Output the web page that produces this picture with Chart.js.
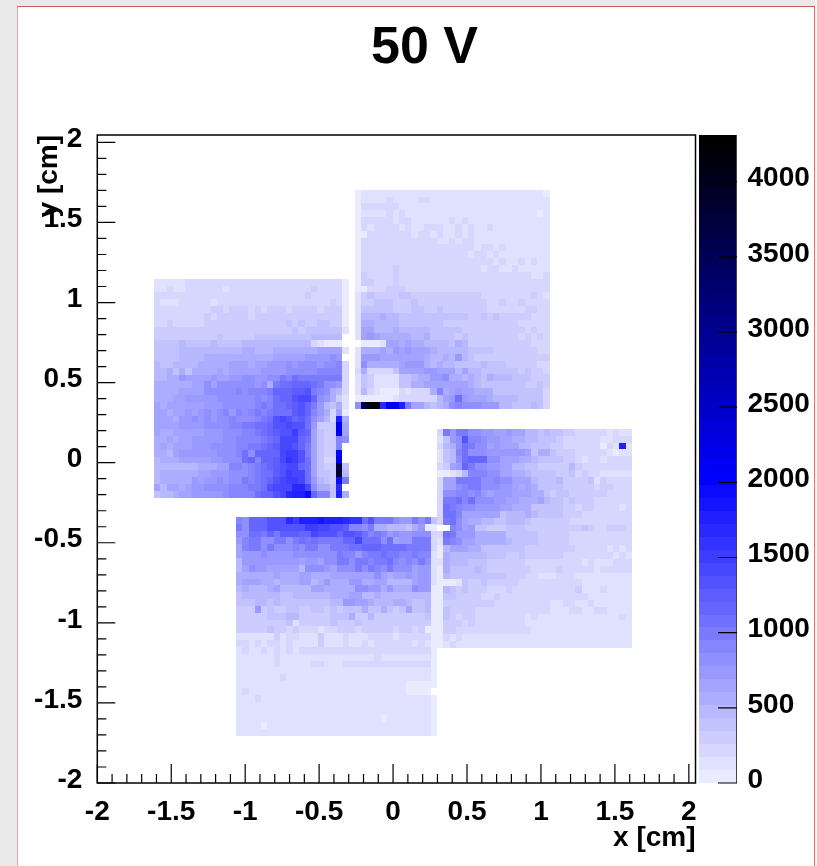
<!DOCTYPE html>
<html>
<head>
<meta charset="utf-8">
<script src="https://cdn.jsdelivr.net/npm/chart.js@4"></script>
<style>
  html, body { margin: 0; height: 100%; background: #e9e9e9; overflow: hidden; }
  #sheet { position: absolute; left: 17px; top: 6px; width: 796px; height: 870px; background: #fff;
           border-left: 1px solid #e3a9a9; border-top: 1px solid #cf5a5a; border-right: 1px solid #f66; }
  #rightEdge { position: absolute; left: 815px; top: 0; width: 2px; height: 866px; background: #f4f4f4; }
  canvas { position: absolute; left: 0; top: 0; }
</style>
</head>
<body>
<div id="sheet"></div>
<div id="rightEdge"></div>
<canvas id="map" width="817" height="866"></canvas>
<script>
var xTicks = [-2, -1.5, -1, -0.5, 0, 0.5, 1, 1.5, 2];
var yTicks = [-2, -1.5, -1, -0.5, 0, 0.5, 1, 1.5, 2];
var zTicks = [0, 500, 1000, 1500, 2000, 2500, 3000, 3500, 4000];

// lower left detector, rows run from the top down
var padA = [
[170,170,170,170,170, 230,190,190,190,190, 190,190,230,200,200, 200,200,200,200,200, 200,200,190,200,200, 200,200,200,250,200, 50],
[170,170,230,170,170, 200,230,200,200,200, 200,170,230,240,210, 210,210,210,210,210, 220,240,240,240,240, 260,230,230,240,230, 50],
[180,180,230,200,200, 210,200,230,230,200, 210,210,210,210,210, 210,210,210,210,220, 230,230,250,230,260, 240,240,240,240,240, 50],
[220,170,170,170,210, 210,210,250,210,170, 210,210,210,210,210, 210,210,210,220,230, 240,250,240,240,240, 240,230,230,270,240, 50],
[230,230,230,230,250, 240,240,240,240,290, 290,240,300,270,290, 250,270,240,270,300, 290,250,280,260,260, 260,250,270,270,310, 50],
[220,220,220,220,220, 240,240,240,270,240, 290,310,290,300,290, 180,290,270,270,270, 300,300,320,310,290, 320,300,320,320,340, 60],
[240,220,260,220,220, 220,250,250,270,270, 290,270,300,320,270, 280,300,300,280,300, 330,350,300,370,320, 320,360,360,340,310, 60],
[340,280,280,280,280, 280,300,300,340,310, 340,310,310,300,300, 300,340,310,340,340, 320,340,360,340,380, 420,420,400,400,400, 100],
[340,300,300,300,300, 300,300,340,340,340, 370,340,340,340,340, 340,370,370,370,370, 360,380,400,400,420, 480,480,480,480,480, 0],
[360,360,360,420,470, 420,420,380,420,460, 420,420,420,420,440, 440,450,450,450,450, 450,450,470,500,500, 180,130,30,30,30, 0],
[420,420,420,420,450, 450,470,450,480,500, 480,480,490,500,530, 520,500,500,510,540, 540,540,560,560,600, 600,620,620,640,640, 100],
[420,380,380,420,450, 450,450,500,550,520, 520,540,560,560,580, 580,560,560,600,620, 620,640,680,640,700, 700,700,760,800,760, 0],
[500,420,420,450,450, 480,500,550,550,560, 590,600,620,620,620, 560,620,660,700,700, 740,800,700,780,800, 800,760,800,860,900, 200],
[480,480,520,400,550, 420,600,560,600,600, 620,600,680,640,680, 640,640,760,760,760, 700,800,800,860,860, 800,900,880,900,900, 220],
[480,480,520,560,700, 620,680,620,680,760, 620,680,740,720,800, 860,720,720,860,860, 960,900,1060,1000,960, 980,1020,1020,1020,1020, 240],
[600,520,560,560,600, 600,640,640,800,660, 780,780,800,800,780, 800,720,800,540,1000, 1100,1080,1200,1180,1200, 1100,1000,860,780,700, 240],
[560,520,560,600,640, 640,640,640,820,800, 860,860,860,940,840, 900,880,900,1000,1150, 1150,1150,1260,1280,1320, 1000,940,800,600,500, 240],
[600,600,560,640,640, 720,720,720,720,740, 800,820,820,800,800, 860,900,860,900,1120, 1200,1200,1300,1400,1400, 1180,780,700,600,300, 150],
[620,560,640,660,660, 660,680,680,700,760, 760,820,780,800,860, 800,900,1000,900,1100, 1100,1150,1250,1300,1200, 1000,700,500,350,600, 90],
[640,620,600,640,680, 700,650,700,800,700, 800,880,760,880,820, 900,980,900,1000,1080, 1080,1100,1250,1300,1150, 900,700,550,200,650, 80],
[640,620,640,600,700, 760,820,760,800,700, 800,860,900,860,800, 860,940,1000,1080,1300, 1400,1300,1200,1250,1100, 800,650,500,250,1800, 600],
[640,640,640,640,700, 700,760,700,780,860, 800,800,880,940,980, 1020,1100,1100,1200,1350, 1350,1400,1300,1300,1100, 700,320,300,280,2100, 660],
[680,560,560,660,660, 660,680,680,700,700, 760,840,820,780,900, 940,950,1040,1160,1280, 1340,1360,1550,1250,1150, 650,350,300,270,2100, 620],
[520,560,620,560,620, 620,720,720,720,760, 760,800,860,880,880, 920,920,1000,1100,1160, 1380,1380,1450,1200,1050, 650,380,280,300,900, 850],
[580,620,520,620,620, 640,750,760,760,780, 800,800,800,900,900, 1000,1020,1100,1200,1260, 1400,1400,1350,1150,1000, 620,350,280,280,900, 0],
[560,600,500,640,700, 700,720,720,700,760, 860,860,860,940,1060, 800,1200,1200,1200,1200, 1380,1500,1480,1300,1000, 650,380,280,260,2100, 0],
[450,560,560,600,620, 620,620,640,640,700, 720,800,800,800,1050, 1150,900,1150,1200,1280, 1450,1600,1500,1300,1050, 680,400,250,250,2100, 0],
[500,500,500,500,500, 500,500,520,560,600, 650,650,900,900,860, 940,1000,1120,1200,1280, 1350,1400,1400,1200,1100, 680,430,300,300,3700, 350],
[480,520,520,600,600, 600,600,620,650,700, 700,760,780,820,850, 900,1000,1050,1100,1240, 1350,1480,1380,1400,1100, 650,380,370,300,3800, 480],
[480,520,520,560,600, 600,720,640,700,740, 780,760,800,860,1000, 900,1000,1050,1150,1300, 1450,1500,1500,1400,1100, 700,500,380,300,1900, 1000],
[620,450,620,620,560, 640,700,700,800,800, 860,860,880,880,900, 960,1020,1120,1300,1400, 1400,1450,1700,1650,1400, 800,600,600,350,1700, 0],
[400,500,500,600,650, 650,700,700,720,720, 760,800,880,880,900, 940,1040,1150,1200,1320, 1450,1650,1800,1800,1900, 1200,900,900,420,1750, 550]
];

// upper right detector
var padB = [
[60,130,130,130,130, 130,130,130,130,130, 130,130,130,130,130, 130,130,130,130,130, 130,130,130,130,130, 130,130,130,130,130, 70],
[60,130,130,130,130, 200,130,130,130,130, 200,200,130,130,130, 130,130,130,130,130, 130,130,130,130,130, 130,130,130,130,130, 130],
[60,180,180,180,180, 180,180,130,130,130, 130,130,130,130,130, 130,130,130,130,130, 130,130,130,130,130, 130,130,130,130,130, 130],
[60,90,90,90,90, 180,100,180,130,130, 130,130,130,130,130, 130,130,130,130,130, 130,130,130,130,130, 130,130,130,130,50, 130],
[60,180,180,180,180, 180,100,180,180,130, 130,130,130,130,130, 190,130,190,130,130, 130,130,130,130,130, 130,130,130,130,130, 130],
[60,180,100,220,220, 220,180,100,180,130, 130,180,180,180,130, 130,180,130,180,130, 130,220,130,130,130, 130,130,130,130,130, 130],
[40,40,180,180,180, 180,180,180,180,100, 180,180,100,180,100, 100,180,130,180,130, 130,130,130,130,130, 130,130,130,130,130, 130],
[60,180,180,230,180, 180,180,180,180,180, 180,180,180,130,100, 180,130,180,180,130, 130,130,130,130,130, 130,130,130,130,130, 130],
[60,200,200,200,200, 200,240,200,200,200, 200,200,200,180,180, 180,180,180,180,130, 180,180,130,180,130, 130,130,130,130,130, 130],
[60,240,240,240,240, 240,200,200,200,200, 200,200,240,200,200, 200,180,180,100,180, 180,100,180,130,130, 130,130,130,130,130, 130],
[60,240,240,240,240, 240,240,200,200,240, 200,200,200,240,200, 200,240,200,200,200, 200,200,100,180,100, 100,180,130,180,130, 130],
[60,240,240,240,240, 240,290,200,200,200, 200,200,200,200,200, 200,200,200,200,200, 100,200,200,130,100, 180,130,130,130,130, 130],
[60,290,240,240,240, 240,290,240,240,240, 240,200,240,240,240, 240,240,240,240,240, 240,200,240,200,200, 200,200,200,100,100, 180],
[60,290,290,240,240, 240,290,240,240,240, 240,240,240,240,240, 240,240,240,240,200, 240,240,200,200,200, 200,200,200,180,200, 200],
[30,30,240,240,240, 280,280,280,240,240, 240,240,240,240,240, 240,240,240,200,240, 240,240,200,200,200, 200,200,200,180,180, 180],
[130,330,420,300,300, 300,300,360,360,310, 310,310,310,310,310, 260,260,260,260,260, 240,200,240,200,200, 240,200,200,260,200, 130],
[100,330,330,380,380, 380,330,330,330,370, 340,340,340,340,300, 300,260,260,260,260, 260,240,240,260,240, 240,280,240,240,240, 240],
[130,420,380,380,380, 380,340,340,340,370, 370,330,330,350,320, 300,300,290,290,330, 290,240,240,240,240, 240,240,260,260,240, 200],
[120,500,500,470,560, 470,470,420,420,400, 380,400,350,350,350, 420,360,360,300,300, 350,260,350,300,300, 260,300,280,220,220, 220],
[150,580,520,450,450, 500,500,400,400,400, 400,400,400,400,340, 340,340,340,300,340, 300,300,300,300,300, 280,220,220,220,220, 200],
[120,620,620,500,500, 500,580,500,500,500, 450,450,400,400,400, 400,400,300,300,340, 320,320,320,320,300, 280,280,240,300,220, 200],
[110,650,700,680,560, 560,560,560,560,500, 500,560,420,400,400, 400,330,400,320,320, 300,300,300,300,300, 300,220,320,220,290, 200],
[0,70,30,30,150, 620,620,560,620,560, 560,500,500,450,440, 400,520,440,340,340, 340,340,340,340,280, 280,280,260,240,240, 200],
[100,560,560,560,620, 560,760,620,760,650, 650,620,580,500,500, 500,500,460,420,420, 380,380,300,300,320, 320,320,320,280,240, 240],
[110,760,760,700,660, 660,660,660,660,660, 660,580,500,500,580, 500,720,450,400,340, 300,260,320,300,300, 280,280,260,260,260, 260],
[120,780,560,560,570, 560,560,660,720,720, 720,580,500,580,450, 460,420,400,400,400, 500,380,360,360,280, 300,320,280,280,180, 220],
[180,520,220,220,220, 220,360,680,680,680, 680,720,720,680,620, 620,500,620,500,460, 400,420,400,400,360, 360,280,420,280,280, 200],
[100,350,300,130,130, 130,130,400,400,480, 600,580,760,760,780, 560,560,500,560,500, 420,560,450,450,450, 360,360,380,300,300, 280],
[100,380,300,100,100, 100,100,350,400,560, 600,650,620,680,620, 620,620,620,600,440, 400,400,420,400,400, 380,380,300,300,350, 280],
[100,450,200,100,80, 80,80,200,170,200, 200,200,580,940,580, 650,700,620,620,600, 600,560,430,430,380, 380,380,380,400,350, 220],
[30,30,50,50,60, 40,130,180,180,180, 180,180,240,500,650, 720,1050,700,620,620, 620,560,500,500,450, 450,430,430,420,350, 220],
[850,3700,4200,4200,1700, 2100,2100,1800,950,680, 620,480,400,480,520, 800,900,800,780,780, 720,720,760,500,450, 400,420,380,450,400, 250]
];

// right hand detector
var padC = [
[220,1000,700,1000,1000, 850,850,700,700,620, 620,700,620,620,480, 480,420,480,400,400, 280,280,220,220,220, 220,220,150,220,130, 130],
[130,400,700,800,1300, 900,900,800,750,700, 640,620,560,520,480, 480,420,360,360,300, 220,220,220,220,220, 200,130,130,180,180, 180],
[220,500,580,800,1100, 950,800,800,620,750, 650,620,620,480,480, 420,420,360,280,280, 240,240,200,200,200, 200,60,200,130,1750, 130],
[130,420,500,900,1100, 800,800,800,750,700, 700,700,700,700,660, 420,520,520,420,320, 300,300,220,220,220, 220,220,130,60,130, 130],
[130,400,480,860,1050, 1150,1200,1200,850,860, 650,650,650,560,560, 480,400,380,380,380, 300,300,220,160,220, 200,130,200,180,180, 180],
[240,340,620,720,1200, 1000,850,850,700,700, 620,620,480,480,380, 380,340,320,320,320, 300,450,260,220,220, 220,220,220,220,220, 180],
[40,60,120,240,500, 900,900,900,850,850, 620,620,540,600,480, 420,380,380,380,300, 300,400,220,300,220, 220,130,130,130,130, 130],
[180,650,650,1000,1000, 1000,950,850,820,900, 800,800,680,620,620, 480,420,420,380,480, 340,320,300,280,380, 100,340,200,200,200, 200],
[180,620,620,800,900, 1000,1000,850,800,850, 700,700,620,600,620, 560,420,420,380,380, 340,340,280,280,280, 220,260,260,230,230, 180],
[180,800,800,900,900, 800,900,760,650,700, 720,700,620,620,620, 530,530,420,300,420, 380,280,340,280,280, 280,320,220,200,200, 180],
[180,1000,1000,1100,900, 1050,820,800,820,700, 700,640,640,580,580, 580,680,480,360,380, 280,400,280,280,280, 220,220,180,180,220, 180],
[180,1050,950,900,780, 780,720,720,720,720, 640,640,560,560,600, 420,420,400,400,420, 300,300,220,280,280, 220,220,220,200,130, 180],
[180,1050,1050,900,680, 680,680,620,620,640, 420,500,480,480,580, 480,400,400,380,380, 300,300,340,220,220, 220,220,180,180,220, 220],
[180,1000,1050,860,650, 600,520,500,480,420, 380,460,460,460,360, 300,300,300,280,300, 280,200,200,220,220, 220,180,180,200,200, 180],
[0,0,900,780,660, 750,400,400,340,340, 340,400,400,400,320, 320,300,300,300,300, 300,300,260,420,300, 240,200,300,300,300, 180],
[180,1050,950,750,700, 700,600,600,520,520, 520,400,400,360,360, 400,300,300,280,280, 280,200,220,220,200, 180,180,180,180,180, 180],
[120,1000,900,780,620, 620,600,600,520,520, 520,500,420,420,420, 360,320,320,300,300, 280,200,200,180,180, 180,180,180,180,180, 180],
[70,500,620,620,620, 560,560,420,420,420, 420,380,380,420,320, 340,300,280,280,280, 280,280,180,180,180, 180,180,90,180,90, 180],
[70,600,500,450,450, 450,450,450,420,420, 360,320,320,400,300, 300,300,280,280,280, 220,200,200,180,180, 180,180,180,120,180, 90],
[100,600,450,450,450, 400,400,400,320,320, 320,320,260,260,220, 220,200,200,180,180, 180,180,180,100,180, 120,120,120,180,180, 180],
[70,580,420,400,420, 400,480,360,300,280, 280,280,280,260,260, 220,220,220,220,280, 180,180,180,180,180, 100,180,180,180,180, 180],
[70,500,400,400,400, 400,400,360,360,360, 360,260,260,260,220, 220,130,130,130,180, 180,180,130,130,100, 130,130,130,130,130, 130],
[40,40,40,130,380, 260,260,400,260,260, 260,260,260,220,220, 220,220,180,180,180, 180,180,180,130,100, 130,130,130,130,130, 130],
[70,500,380,300,400, 260,260,260,220,220, 220,300,220,220,180, 180,180,180,180,180, 180,180,260,100,100, 130,200,130,130,130, 130],
[70,380,380,280,280, 280,280,240,240,300, 220,220,180,220,180, 180,180,180,250,180, 180,180,200,200,130, 130,130,130,130,130, 130],
[70,300,280,280,280, 280,280,280,280,220, 220,220,220,220,180, 180,180,180,100,100, 180,180,120,120,180, 130,130,130,130,130, 130],
[70,400,300,300,300, 300,220,220,220,220, 220,220,220,220,220, 180,180,180,100,100, 100,180,180,130,130, 180,180,130,130,130, 130],
[70,400,300,200,300, 300,220,220,220,220, 220,220,220,220,130, 180,130,170,170,170, 130,130,130,130,170, 130,130,130,130,190, 130],
[70,300,300,300,220, 300,220,220,220,220, 220,220,220,220,130, 130,130,130,130,130, 130,130,130,130,130, 130,130,130,130,130, 130],
[70,280,280,180,180, 180,180,180,180,180, 180,180,180,180,180, 130,170,130,130,170, 130,130,130,130,130, 130,130,130,130,130, 130],
[70,200,120,220,170, 170,170,170,120,170, 170,170,170,120,120, 170,170,170,170,130, 130,130,130,130,130, 130,130,130,130,130, 130],
[70,170,240,170,170, 130,130,130,130,130, 130,130,130,130,130, 130,130,130,130,130, 130,130,130,130,130, 130,130,130,130,130, 130]
];

// lower detector
var padD = [
[900,800,1200,1200,1200, 1300,1300,1300,1650,1500, 1750,1800,1800,1850,1750, 1800,1800,1700,1600,1600, 1100,1300,950,1000,950, 800,700,700,950,820, 950,360],
[950,800,1200,1200,1200, 1300,1300,1300,1300,1350, 1350,1500,1500,1400,1400, 1350,1300,1250,900,900, 800,1000,550,600,500, 450,450,380,550,700, 50,60],
[850,850,1100,1100,1000, 1150,1000,1250,1250,1250, 1200,1200,1400,1300,1300, 1300,1200,1300,1300,1250, 1100,900,1000,900,700, 800,700,700,850,850, 850,220],
[720,900,950,950,850, 850,950,950,850,1000, 1050,1000,1100,950,1000, 1000,1000,1200,1200,1400, 1050,1050,1050,800,1100, 620,700,700,950,950, 950,200],
[650,900,950,950,780, 950,850,850,850,900, 800,1000,1000,850,850, 1000,1000,1000,1100,1100, 1150,1150,1200,1100,1100, 1100,1100,1000,1000,1000, 950,220],
[650,720,720,720,800, 720,720,720,720,800, 850,850,800,800,800, 850,950,900,900,720, 900,950,1000,1100,1000, 1000,920,880,1000,900, 900,130],
[500,700,700,700,750, 750,750,700,750,750, 650,720,720,650,850, 850,950,950,800,1000, 1000,900,950,1000,1100, 900,820,900,800,1000, 800,130],
[500,650,800,750,750, 650,650,650,650,650, 500,850,800,850,700, 680,800,800,800,1000, 820,950,920,800,1000, 850,850,800,680,750, 750,130],
[560,560,600,560,560, 560,620,600,600,560, 650,650,600,600,600, 620,620,620,620,620, 680,680,800,620,600, 620,620,700,620,700, 700,130],
[560,620,620,620,560, 560,500,560,560,560, 620,620,500,600,700, 600,600,600,720,720, 600,600,620,620,500, 500,500,500,620,720, 720,100],
[500,600,500,500,500, 550,620,500,500,500, 500,500,620,650,600, 600,600,600,600,850, 800,750,700,600,700, 600,600,560,860,760, 760,70],
[420,500,480,500,440, 440,500,420,420,500, 440,500,500,440,500, 560,560,560,620,620, 500,500,580,500,500, 500,500,500,460,460, 460,70],
[420,420,380,460,460, 420,500,420,420,420, 420,420,400,420,400, 480,500,700,700,620, 620,600,500,480,500, 600,560,480,380,380, 450,70],
[340,340,340,700,300, 400,340,340,400,400, 300,300,400,400,300, 420,320,400,400,400, 520,400,400,560,400, 340,420,620,400,360, 450,70],
[300,300,300,300,300, 380,380,380,500,500, 340,340,280,340,340, 380,360,380,520,340, 340,500,340,340,340, 340,340,340,280,280, 400,70],
[300,300,300,300,300, 300,300,300,380,130, 300,300,300,300,300, 360,300,300,300,380, 300,300,300,300,280, 280,280,280,280,280, 280,70],
[300,300,300,300,300, 370,300,300,220,300, 220,220,220,170,220, 220,300,300,300,240, 300,300,280,280,300, 220,300,300,200,280, 60,60],
[170,170,170,170,170, 170,300,170,220,220, 170,170,170,300,170, 170,170,220,170,170, 170,220,220,220,220, 90,220,220,220,220, 220,70],
[240,240,170,240,170, 240,240,170,240,170, 130,170,170,300,170, 170,170,200,170,170, 200,170,200,200,200, 200,200,200,130,200, 130,70],
[170,240,170,170,240, 170,240,170,240,170, 220,220,220,220,220, 240,240,220,220,240, 220,220,220,220,240, 240,220,240,220,240, 240,70],
[170,170,170,170,170, 170,240,170,170,170, 170,170,170,170,170, 170,170,170,170,170, 170,170,240,170,170, 170,170,170,170,170, 170,70],
[170,170,170,170,170, 170,240,170,170,170, 170,170,240,240,170, 170,170,200,250,250, 240,240,220,220,220, 220,220,220,200,200, 200,70],
[170,170,170,170,170, 170,170,130,130,130, 130,130,130,130,130, 130,170,170,170,90, 170,170,90,170,170, 170,170,170,170,170, 170,70],
[170,90,170,130,130, 170,170,200,170,170, 170,170,170,170,170, 90,170,170,170,170, 170,170,170,170,170, 170,170,170,90,170, 170,70],
[130,170,90,90,90, 170,170,170,130,130, 130,130,170,170,170, 170,130,170,170,170, 170,130,130,170,170, 170,170,40,40,40, 40,10],
[130,180,130,90,90, 170,90,170,90,90, 90,90,90,170,170, 170,170,170,130,130, 130,90,90,170,170, 170,130,40,40,40, 40,0],
[170,130,90,180,90, 170,90,90,90,90, 90,90,90,130,170, 130,170,170,130,170, 90,90,130,130,170, 90,90,90,90,170, 90,70],
[130,130,90,90,90, 170,90,90,90,90, 170,90,90,130,170, 130,90,90,170,170, 90,90,90,170,90, 90,90,90,90,90, 90,70],
[130,130,130,130,130, 130,170,170,130,170, 170,170,130,130,170, 170,130,130,130,130, 130,130,130,130,130, 170,130,130,130,130, 130,70],
[130,130,130,130,130, 130,130,170,130,130, 130,130,130,130,170, 130,130,130,130,130, 130,130,130,40,130, 130,130,130,130,130, 130,70],
[130,130,130,130,40, 130,130,130,170,130, 130,130,170,130,130, 130,130,170,130,130, 130,130,130,130,130, 130,130,130,130,130, 130,70],
[130,130,130,130,130, 130,130,130,130,130, 130,130,130,130,130, 130,130,130,130,130, 130,170,130,130,130, 130,130,130,130,130, 130,70]
];

var pads = [padA, padB, padC, padD];
var padLeft = [-1.617, -0.258, 0.297, -1.062];
var padTop = [1.148, 1.704, 0.211, -0.339];

var binX = 0.0425;
var binY = 0.0427;
var zMax = 4310;
var bands = 50;

function cellsOf(rows, left, top) {
    var cells = [];
    for (var r = 0; r < rows.length; r++) {
        for (var c = 0; c < rows[r].length; c++) {
            if (rows[r][c] > 0) cells.push({ x: left + (c + 0.5) * binX, y: top - (r + 0.5) * binY, v: rows[r][c] });
        }
    }
    return cells;
}

// white to blue to black, one flat colour per band
function bandColor(i) {
    if (i <= 23) {
        var a = Math.round(255 * (1 - (i + 2) / 25));
        return 'rgb(' + a + ',' + a + ',255)';
    }
    return 'rgb(0,0,' + Math.round(255 * (1 - (i - 23) / 26)) + ')';
}

var heatmap = {
    id: 'heatmap',
    beforeDraw: function (chart) {
        // root puts its labels a little above the tick
        ['y', 'z'].forEach(function (id) {
            chart.scales[id].getLabelItems().forEach(function (item) { item.options.translation[1] -= 3; });
        });
    },
    afterDatasetsDraw: function (chart) {
        var ctx = chart.ctx, x = chart.scales.x, y = chart.scales.y, z = chart.scales.z;
        var step = zMax / bands;
        ctx.save();
        chart.data.datasets.forEach(function (ds) {
            ds.data.forEach(function (p) {
                var l = Math.round(x.getPixelForValue(p.x - binX / 2));
                var r = Math.round(x.getPixelForValue(p.x + binX / 2));
                var t = Math.round(y.getPixelForValue(p.y + binY / 2));
                var b = Math.round(y.getPixelForValue(p.y - binY / 2));
                ctx.fillStyle = bandColor(Math.min(bands - 1, Math.floor(p.v / step)));
                ctx.fillRect(l, t, r - l, b - t);
            });
        });

        // frame
        var area = chart.chartArea;
        ctx.strokeStyle = '#000';
        ctx.lineWidth = 1.5;
        ctx.strokeRect(area.left, area.top, area.right - area.left, area.bottom - area.top);

        // inward ticks, long on the half cm
        ctx.lineWidth = 1.2;
        ctx.beginPath();
        for (var i = -20; i <= 20; i++) {
            var px = x.getPixelForValue(i / 10), py = y.getPixelForValue(i / 10);
            ctx.moveTo(px, area.bottom);
            ctx.lineTo(px, area.bottom - (i % 5 === 0 ? 19 : 9));
            ctx.moveTo(area.left, py);
            ctx.lineTo(area.left + (i % 5 === 0 ? 18 : 9), py);
        }
        ctx.stroke();

        // colour bar
        var barLeft = area.right + 3.5, barRight = area.right + 40.5;
        for (var n = 0; n < bands; n++) {
            var top = Math.round(z.getPixelForValue((n + 1) * step));
            var bottom = Math.round(z.getPixelForValue(n * step));
            ctx.fillStyle = bandColor(n);
            ctx.fillRect(barLeft, top, barRight - barLeft, bottom - top);
        }
        ctx.strokeStyle = '#444';
        ctx.lineWidth = 1;
        ctx.beginPath();
        ctx.moveTo(barRight + 0.5, area.top);
        ctx.lineTo(barRight + 0.5, area.bottom);
        ctx.stroke();
        ctx.strokeStyle = '#000';
        ctx.lineWidth = 1.2;
        ctx.beginPath();
        zTicks.forEach(function (v) {
            var py = z.getPixelForValue(v);
            ctx.moveTo(barRight - 18, py);
            ctx.lineTo(barRight + 1, py);
        });
        ctx.stroke();
        ctx.restore();
    }
};

function axisLabel(v) {
    return String(Math.round(v * 10) / 10);
}

var tickFont = { family: '"Liberation Sans", Arial, sans-serif', size: 28, weight: 'bold' };

new Chart(document.getElementById('map').getContext('2d'), {
    type: 'scatter',
    data: {
        datasets: pads.map(function (rows, i) {
            return { data: cellsOf(rows, padLeft[i], padTop[i]), pointRadius: 0 };
        })
    },
    options: {
        responsive: false,
        animation: false,
        events: [],
        layout: { padding: { left: 32 }, autoPadding: false },
        plugins: {
            legend: { display: false },
            tooltip: { enabled: false },
            title: {
                display: true,
                text: '50 V',
                color: '#000',
                font: { family: tickFont.family, size: 52, weight: 'bold', lineHeight: 1.2 },
                padding: { top: 17, bottom: 55.6 }
            }
        },
        scales: {
            x: {
                type: 'linear',
                min: -2,
                max: 2.045,
                afterFit: function (scale) { scale.height = 83; },
                grid: { display: false },
                border: { display: false },
                title: { display: true, text: 'x [cm]', align: 'end', color: '#000', font: tickFont, padding: { top: 0, bottom: 11 } },
                afterBuildTicks: function (scale) { scale.ticks = xTicks.map(function (v) { return { value: v }; }); },
                ticks: { color: '#000', font: tickFont, maxRotation: 0, autoSkip: false, padding: 4, callback: axisLabel }
            },
            y: {
                type: 'linear',
                min: -2,
                max: 2.046,
                afterFit: function (scale) { scale.width = 65.3; },
                grid: { display: false },
                border: { display: false },
                title: { display: true, text: 'y [cm]', align: 'end', color: '#000', font: tickFont, padding: 0 },
                afterBuildTicks: function (scale) { scale.ticks = yTicks.map(function (v) { return { value: v }; }); },
                ticks: { color: '#000', font: tickFont, autoSkip: false, padding: 7, callback: axisLabel }
            },
            z: {
                type: 'linear',
                position: 'right',
                min: 0,
                max: zMax,
                afterFit: function (scale) { scale.width = 121.5; },
                grid: { display: false },
                border: { display: false },
                afterBuildTicks: function (scale) { scale.ticks = zTicks.map(function (v) { return { value: v }; }); },
                ticks: { color: '#000', font: tickFont, autoSkip: false, padding: 44, callback: axisLabel }
            }
        }
    },
    plugins: [heatmap]
});
</script>
</body>
</html>
